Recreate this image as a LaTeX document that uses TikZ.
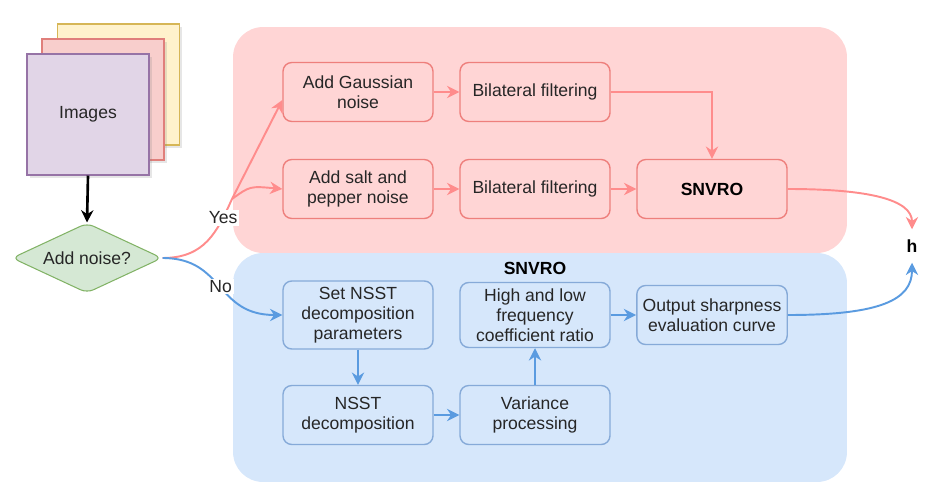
\documentclass[tikz,border=0pt]{standalone}
\usepackage{fontspec}
\setmainfont{Liberation Sans}
\usetikzlibrary{shapes.geometric,arrows.meta,shadows}

\definecolor{redfill}{HTML}{FFD5D5}
\definecolor{redline}{HTML}{EE7F7C}
\definecolor{redarrow}{HTML}{FF8C8C}
\definecolor{bluefill}{HTML}{D6E7FB}
\definecolor{blueline}{HTML}{86AAD8}
\definecolor{bluearrow}{HTML}{5A9BE0}
\definecolor{yellowfill}{HTML}{FFF2CC}
\definecolor{yellowline}{HTML}{D6B656}
\definecolor{pinkfill}{HTML}{F8CECC}
\definecolor{pinkline}{HTML}{E07F7B}
\definecolor{purplefill}{HTML}{E1D5E7}
\definecolor{purpleline}{HTML}{9673A6}
\definecolor{greenfill}{HTML}{D5E8D4}
\definecolor{greenline}{HTML}{82B366}

\tikzset{
	procbox/.style={draw, line width=0.8pt, rounded corners=5pt,
		minimum width=3cm, minimum height=1.18cm, align=center,
		text=black!85, font=\fontsize{10}{11.5}\selectfont},
	redbox/.style={procbox, draw=redline, fill=redfill},
	bluebox/.style={procbox, draw=blueline, fill=bluefill},
	panel/.style={rounded corners=0.6cm, minimum width=12.28cm, inner sep=0pt},
	card/.style={draw, line width=0.6pt, minimum width=2.44cm, minimum height=2.42cm,
		drop shadow={opacity=0.2, shadow xshift=1.5pt, shadow yshift=-1.5pt}},
	redarr/.style={draw=redarrow, line width=1.1pt, -{Stealth[length=7pt,width=7pt]}},
	bluearr/.style={draw=bluearrow, line width=1.1pt, -{Stealth[length=7pt,width=7pt]}},
	edgelabel/.style={fill=white, inner sep=1pt, text=black!85, font=\fontsize{10}{12}\selectfont}
}

\begin{document}
\begin{tikzpicture}[x=0.02cm, y=-0.02cm]
	
	\useasboundingbox (0,0) rectangle (932,500);
	
	% panels
	\node[panel, fill=redfill, minimum height=4.52cm] (noisy) at (540,140) {};
	\node[panel, fill=bluefill, minimum height=4.58cm] (clean) at (540,367.5) {};
	
	% image stack
	\node[card, draw=yellowline, fill=yellowfill] (img3) at (118.5,84.5) {};
	\node[card, draw=pinkline, fill=pinkfill] (img2) at (103,99.5) {};
	\node[card, draw=purpleline, fill=purplefill, text=black!85,
		font=\fontsize{10}{12}\selectfont] (img1) at (88,114.5) {Images};
	
	\node[diamond, draw=greenline, fill=greenfill, line width=0.6pt, rounded corners=4pt,
		minimum width=3cm, minimum height=1.4cm, inner sep=0pt, aspect=2.1,
		text=black!85, font=\fontsize{10}{12}\selectfont] (noise) at (87,258) {Add noise?};
	
	% noisy branch
	\node[redbox] (gauss) at (358,92) {Add Gaussian\\noise};
	\node[redbox] (bil1) at (535,92) {Bilateral filtering};
	\node[redbox] (salt) at (358,189) {Add salt and\\pepper noise};
	\node[redbox] (bil2) at (535,189) {Bilateral filtering};
	\node[redbox, font=\fontsize{10}{12}\selectfont\bfseries, text=black] (snvro) at (712,189) {SNVRO};
	
	% SNVRO steps
	\node[font=\fontsize{10}{12}\selectfont\bfseries] (snvrolabel) at (535,268) {SNVRO};
	\node[bluebox] (param) at (358,315) {Set NSST\\decomposition\\parameters};
	\node[bluebox] (ratio) at (535,315) {High and low\\frequency\\coefficient ratio};
	\node[bluebox] (curve) at (712,315) {Output sharpness\\evaluation curve};
	\node[bluebox] (nsst) at (358,415) {NSST\\decomposition};
	\node[bluebox] (var) at (535,415) {Variance\\processing};
	
	\node[font=\fontsize{10}{12}\selectfont\bfseries, inner sep=0.2cm] (h) at (912,246) {h};
	
	% input
	\draw[line width=1.5pt, -{Stealth[length=7pt,width=7pt]}] (img1.south) -- (noise.north);
	
	% yes / no
	\coordinate (fork) at (232,199);
	\draw[draw=redarrow, line width=1.1pt] (noise.east) .. controls (205,258) and (217,232) .. node[edgelabel, pos=0.8] (yes) {Yes} (fork);
	\draw[redarr] (fork) -- ([yshift=-0.16cm]gauss.west);
	\draw[redarr] (fork) .. controls (250,186) .. (salt.west);
	\draw[bluearr] (noise.east) .. controls (225,258) and (215,315) .. node[edgelabel] (no) {No} (param.west);
	
	% noisy chain
	\draw[redarr] (gauss) -- (bil1);
	\draw[redarr] (salt) -- (bil2);
	\draw[redarr] (bil2) -- (snvro);
	\draw[redarr] (bil1.east) -| (snvro.north);
	\draw[redarr] (snvro.east) .. controls (870,189) and (912,200) .. (h.north);
	
	% clean chain
	\draw[bluearr] (param) -- (nsst);
	\draw[bluearr] (nsst) -- (var);
	\draw[bluearr] (var) -- (ratio);
	\draw[bluearr] (ratio) -- (curve);
	\draw[bluearr] (curve.east) .. controls (880,315) and (912,300) .. (h.south);
	
\end{tikzpicture}
\end{document}
